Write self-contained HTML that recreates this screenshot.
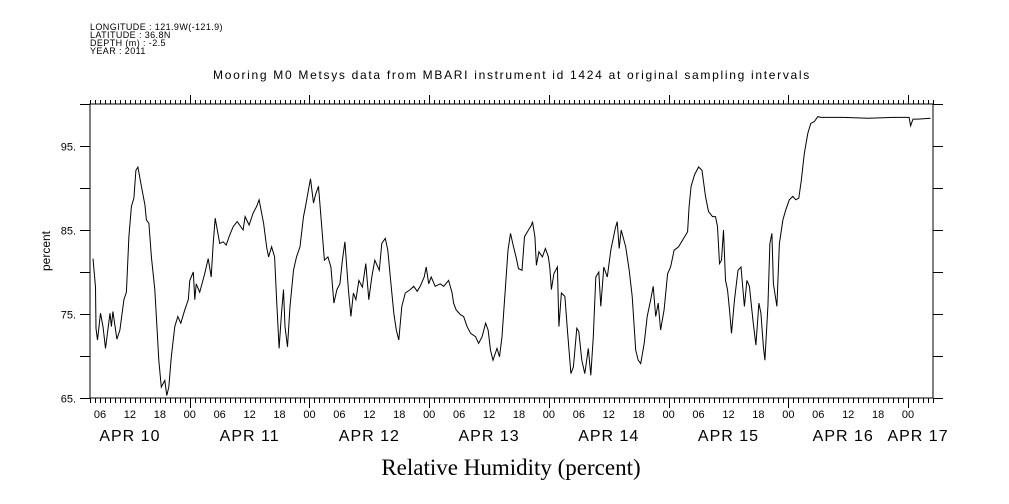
<!DOCTYPE html>
<html><head><meta charset="utf-8">
<style>
html,body{margin:0;padding:0;background:#fff;}
svg{display:block;font-family:"Liberation Sans",sans-serif;}
</style></head>
<body>
<svg id="chart" width="1009" height="504" viewBox="0 0 1009 504" xmlns="http://www.w3.org/2000/svg">
<g font-size="9" fill="#000" letter-spacing="0.4">
<text x="90" y="30">LONGITUDE : 121.9W(-121.9)</text>
<text x="90" y="38">LATITUDE : 36.8N</text>
<text x="90" y="46">DEPTH (m) : -2.5</text>
<text x="90" y="54">YEAR : 2011</text>
</g>
<text x="512" y="79" text-anchor="middle" font-size="12" letter-spacing="1.7">Mooring M0 Metsys data from MBARI instrument id 1424 at original sampling intervals</text>
<text x="511" y="475" text-anchor="middle" font-size="23" font-family="Liberation Serif, serif">Relative Humidity (percent)</text>
<text transform="translate(50,251) rotate(-90)" text-anchor="middle" font-size="12">percent</text>
<g id="axes"></g>
<g id="series"></g>
</svg>
<script>
// hours since 2011-04-10 00:00
const hours = [4.6,5.1,5.2,5.5,6.1,6.6,7.1,8.0,8.3,8.6,9.4,10.0,10.8,11.3,11.8,12.3,12.8,13.2,13.6,14.3,15.0,15.3,15.8,16.3,17.0,17.5,17.8,18.3,19.0,19.4,19.8,20.3,21.0,21.6,22.2,23.0,23.7,24.0,24.7,25.0,25.3,26.0,27.0,27.7,28.3,28.7,29.1,30.0,30.7,31.3,32.0,32.7,33.5,
34.7,35.1,35.9,36.7,37.4,37.9,38.8,39.4,39.8,40.4,41.0,41.4,41.9,42.4,42.8,43.1,43.6,44.1,44.8,45.4,46.1,46.8,47.2,47.8,48.2,48.8,49.2,49.8,50.6,51.0,51.7,52.3,52.9,53.5,54.1,54.6,55.1,55.8,56.3,56.8,57.3,57.9,58.6,59.3,59.9,60.5,61.1,62.0,
62.5,63.2,63.7,64.2,64.9,65.4,65.9,66.5,67.2,68.2,68.9,69.6,70.2,71.0,71.4,71.9,72.4,73.2,74.2,74.9,75.9,76.6,76.9,77.4,78.3,78.9,79.6,80.3,81.3,81.9,82.6,83.3,83.8,84.3,84.8,85.6,86.1,86.6,87.3,87.8,88.3,88.9,89.4,89.9,90.6,91.1,91.9,92.5,
92.7,93.2,93.5,94.0,94.7,95.3,95.9,96.2,96.5,97.0,97.7,98.0,98.5,99.2,99.7,100.4,100.9,101.6,102.0,102.6,103.2,103.9,104.4,104.9,105.4,106.0,106.4,107.0,107.7,108.4,109.3,109.7,110.1,110.5,111.4,112.1,112.7,113.4,113.9,114.4,115.1,115.7,116.4,116.9,117.4,117.9,118.4,119.1,119.8,120.4,121.1,122.0,
122.8,123.8,124.1,124.5,125.2,126.0,126.7,127.4,128.0,128.8,129.4,129.8,130.2,130.6,131.0,131.4,131.8,132.2,132.6,133.2,133.9,134.5,135.2,135.7,136.2,136.9,137.5,138.1,138.5,139.0,139.3,139.9,140.3,140.7,141.0,141.7,142.2,142.9,143.5,144.2,144.9,145.5,146.1,146.6,147.2,147.9,148.5,149.2,149.9,
150.5,155,160,165,168.2,168.5,169,170,172.5];
const humidity = [81.6,78.2,73.3,71.9,75.1,73.5,70.9,75.1,73.5,75.3,72.0,73.1,76.7,77.6,84.2,87.8,88.8,92.1,92.5,90.2,88.0,86.2,85.8,81.8,77.9,72.7,69.5,66.3,67.1,65.3,66.3,69.9,73.5,74.7,73.9,75.5,76.7,79.0,80.0,76.7,78.6,77.6,79.8,81.6,79.4,83.4,86.4,83.4,83.6,83.2,84.4,85.4,86.0,
85.0,86.6,85.6,87.0,87.8,88.6,85.8,83.0,81.8,83.0,81.8,76.7,70.9,75.1,77.9,73.5,71.1,75.9,80.2,81.8,83.0,86.6,87.8,89.8,91.1,88.2,89.2,90.2,84.4,81.4,81.8,80.6,76.3,77.9,78.6,81.4,83.6,77.9,74.7,77.5,76.7,79.0,78.2,81.0,76.7,79.4,81.4,80.2,
83.4,84.0,82.6,79.4,75.1,73.1,71.9,75.9,77.5,77.9,78.3,77.7,78.3,79.4,80.6,78.6,79.4,78.3,78.6,78.3,79.0,77.5,76.3,75.5,74.9,74.7,73.5,72.7,72.3,71.5,72.3,73.9,73.1,70.7,69.5,70.9,69.9,72.3,78.3,82.6,84.6,83.0,81.8,80.4,80.2,84.2,85.0,85.6,
86.0,84.2,80.8,82.4,81.8,82.8,81.8,80.4,77.9,79.8,80.6,73.5,77.5,77.1,73.1,67.9,68.7,73.3,72.9,69.5,67.9,70.9,67.7,72.3,79.4,80.0,75.9,80.6,79.4,82.6,85.2,86.0,82.8,85.0,83.0,80.2,77.1,70.7,69.5,69.1,71.5,74.7,76.7,78.3,74.7,76.3,73.1,75.5,79.8,80.6,82.6,83.0,
83.8,84.8,87.8,90.2,91.6,92.5,92.1,89.0,87.2,86.6,86.6,85.4,81.0,81.4,85.0,79.0,77.9,75.5,72.7,76.7,80.2,80.6,75.9,79.0,78.3,74.3,71.3,76.3,75.1,71.1,69.5,75.9,83.4,84.6,78.6,75.9,83.4,86.2,87.4,88.6,89.0,88.6,88.8,90.9,94.1,96.5,97.7,97.9,98.5,
98.4,98.4,98.3,98.4,98.4,97.4,98.2,98.2,98.3];
const yTickValues = [65,70,75,80,85,90,95,100];
const yTickLabels = ["65.","","75.","","85.","","95.",""];
const dayLabels = ["APR 10","APR 11","APR 12","APR 13","APR 14","APR 15","APR 16","APR 17"];

const X0=90, X1=933, Y0=104, Y1=398;
const H0=4, H1=173, V0=65, V1=100;
function xs(h){return X0+(h-H0)*(X1-X0)/(H1-H0);}
function ys(v){return Y1-(v-V0)*(Y1-Y0)/(V1-V0);}
const NS="http://www.w3.org/2000/svg";
const axes=document.getElementById('axes');
const series=document.getElementById('series');
function mk(tag,attrs,parent){const e=document.createElementNS(NS,tag);for(const k in attrs)e.setAttribute(k,attrs[k]);parent.appendChild(e);return e;}

let fr=mk('rect',{x:X0,y:Y0,width:X1-X0,height:Y1-Y0,fill:'none',stroke:'#000','stroke-width':1},axes);



yTickValues.forEach((v,i)=>{
  const y=Math.round(ys(v))+0.5;
  let t=mk('line',{x1:80,x2:X0,y1:y,y2:y,stroke:'#000'},axes);
  
  
  let t2=mk('line',{x1:X1,x2:943,y1:y,y2:y,stroke:'#000'},axes);
  
  
  if(yTickLabels[i]){
    let lb=mk('text',{x:76,y:y+4,'text-anchor':'end','font-size':11},axes);
    lb.textContent=yTickLabels[i];
    
    
  }
});

for(let h=H0;h<=H1;h++){
  const x=Math.round(xs(h))+0.5;
  const major=(h%24===0);
  let tb=mk('line',{x1:x,x2:x,y1:Y1,y2:Y1+(major?10:5),stroke:'#000'},axes);
  
  
  let tt=mk('line',{x1:x,x2:x,y1:Y0,y2:Y0-(major?9:4),stroke:'#000'},axes);
  
  
  if(h%6===0){
    const hh=h%24;
    let lb=mk('text',{x:xs(h),y:418,'text-anchor':'middle','font-size':11},axes);
    lb.textContent=(hh<10?'0':'')+hh;
    
    
  }
}
dayLabels.forEach((d,i)=>{
  let c=i*24+12;
  if(i===6) c=i*24+11;
  if(i===7) c=i*24+2;
  let lb=mk('text',{x:xs(c),y:441,'text-anchor':'middle','font-size':16,'letter-spacing':1},axes);
  lb.textContent=d;
  
  
});

let pts=hours.map((h,i)=>xs(h).toFixed(1)+','+ys(humidity[i]).toFixed(1)).join(' ');
let pl=mk('polyline',{points:pts,fill:'none',stroke:'#000','stroke-width':1},series);


</script>
</body></html>
